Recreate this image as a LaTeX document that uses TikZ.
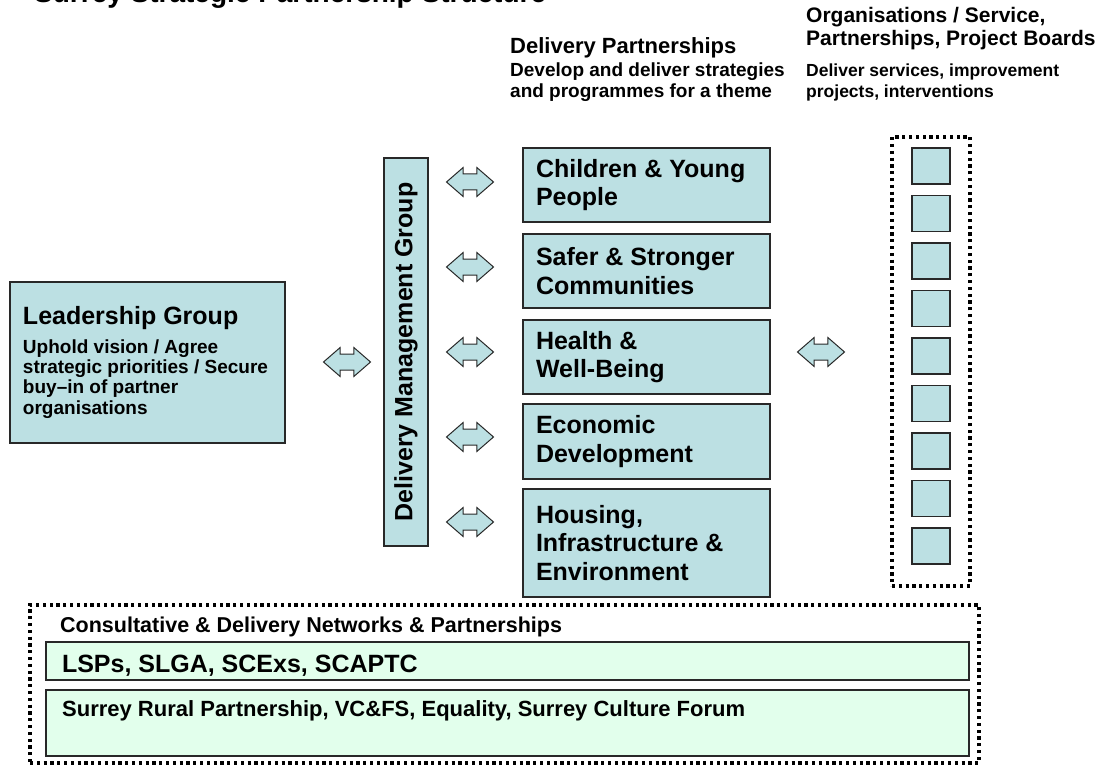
\documentclass[tikz,border=0pt]{standalone}
\usepackage{fontspec}
\setmainfont{Liberation Sans}
\usetikzlibrary{shapes.arrows}

\definecolor{boxteal}{RGB}{188,224,227}
\definecolor{boxgreen}{RGB}{226,255,236}
\definecolor{boxline}{RGB}{40,40,40}

\newcommand{\fs}[2]{\fontsize{#1}{#2}\selectfont}

\tikzset{
  tealbox/.style={rectangle,draw=boxline,line width=1.3pt,fill=boxteal,inner sep=0pt},
  greenbox/.style={rectangle,draw=boxline,line width=1.3pt,fill=boxgreen,inner sep=0pt},
  plainspace/.style={execute at begin node={\spaceskip=0pt\xspaceskip=0pt}},
  themebox/.style={tealbox,plainspace,minimum width=247,text width=221,align=left,font=\bfseries\fs{25}{28.5}},
  smallbox/.style={tealbox,minimum width=38,minimum height=36},
  twoway/.style={double arrow,draw=boxline,line width=1pt,fill=boxteal,inner xsep=0pt,inner ysep=7.5pt,
    minimum height=47,minimum width=28,double arrow head extend=6.5,double arrow tip angle=82},
  dotbox/.style={rectangle,draw=black,line width=3.2pt,dash pattern=on 3.2pt off 3.6pt,inner sep=0pt},
  label/.style={inner sep=0pt,align=left,font=\bfseries},
}

\begin{document}
\begin{tikzpicture}[x=1pt,y=-1pt]
  \useasboundingbox (0,0) rectangle (1109,765);

  % headings
  \node (title) [label,anchor=base west,font=\bfseries\fs{28}{30}] at (34,3) {Surrey Strategic Partnership Structure};
  \node (dphead) [label,anchor=north west,font=\bfseries\fs{19}{21}] at (510,37)
    {{\fs{22}{21}Delivery Partnerships}\\[2pt]Develop and deliver strategies\\and programmes for a theme};
  \node (orghead) [label,anchor=north west,font=\bfseries\fs{17.5}{21}] at (806,7)
    {{\fs{21}{21}Organisations / Service,}\\[2pt]{\fs{21}{21}Partnerships, Project Boards}\\[10pt]Deliver services, improvement\\projects, interventions};

  % leadership and delivery management
  \node (lead) [tealbox,plainspace,minimum width=275,minimum height=161,text width=249,align=left,font=\bfseries\fs{19}{20.3}] at (147.5,362.5)
    {{\fs{25}{20}Leadership Group}\\[8pt]Uphold vision / Agree\\strategic priorities / Secure\\buy--in of partner\\organisations};
  \node (dmg) [tealbox,rotate=90,minimum width=388,minimum height=44,font=\bfseries\fs{25}{28}] at (406,352) {Delivery Management Group};

  % delivery partnerships
  \node (cyp) [themebox,minimum height=74] at (646.5,185) {Children \& Young\\People};
  \node (ssc) [themebox,minimum height=74] at (646.5,271) {Safer \& Stronger\\Communities};
  \node (hwb) [themebox,minimum height=74] at (646.5,357) {Health \&\\Well-Being};
  \node (eco) [themebox,minimum height=75] at (646.5,441.5) {Economic\\Development};
  \node (hie) [themebox,minimum height=108] at (646.5,543) {Housing,\\Infrastructure \&\\Environment};

  % two-way arrows
  \node (alead) [twoway] at (347,362) {};
  \node (a1) [twoway] at (470,182) {};
  \node (a2) [twoway] at (470,267) {};
  \node (a3) [twoway] at (470,352) {};
  \node (a4) [twoway] at (470,437) {};
  \node (a5) [twoway] at (470,522) {};
  \node (aorg) [twoway] at (821,352) {};

  % organisations column
  \node (orgs) [dotbox,minimum width=78,minimum height=449] at (931,361.5) {};
  \node (s1) [smallbox] at (931,166) {};
  \node (s2) [smallbox] at (931,213.5) {};
  \node (s3) [smallbox] at (931,261) {};
  \node (s4) [smallbox] at (931,308.5) {};
  \node (s5) [smallbox] at (931,356) {};
  \node (s6) [smallbox] at (931,403.5) {};
  \node (s7) [smallbox] at (931,451) {};
  \node (s8) [smallbox] at (931,498.5) {};
  \node (s9) [smallbox] at (931,546) {};

  % networks
  \node (nets) [dotbox,minimum width=949,minimum height=158] at (504.5,684) {};
  \node (netshead) [label,anchor=base west,font=\bfseries\fs{21.5}{24}] at (60,632) {Consultative \& Delivery Networks \& Partnerships};
  \node (lsp) [greenbox,plainspace,minimum width=923,minimum height=38,text width=891,text height=22pt,text depth=0pt,align=left,font=\bfseries\fs{25}{28}] at (507.5,661) {LSPs, SLGA, SCExs, SCAPTC};
  \node (rural) [greenbox,minimum width=923,minimum height=66] at (507.5,723) {};
  \node (ruraltext) [label,anchor=base west,font=\bfseries\fs{22}{24}] at (62,716) {Surrey Rural Partnership, VC\&FS, Equality, Surrey Culture Forum};
\end{tikzpicture}
\end{document}
